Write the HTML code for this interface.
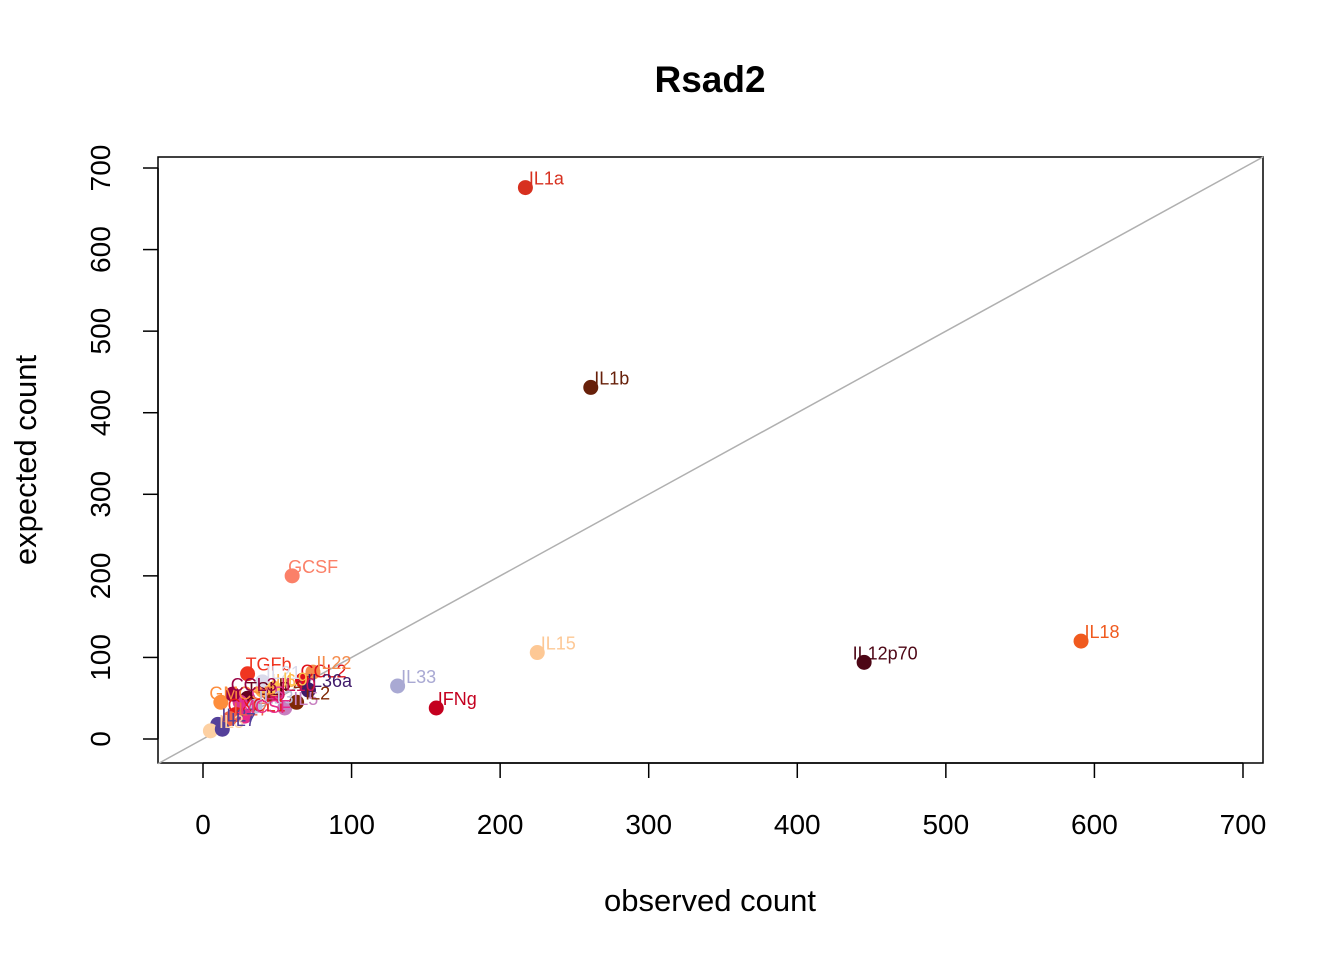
<!DOCTYPE html>
<html><head><meta charset="utf-8"><style>body{margin:0;background:#fff}svg{display:block;font-family:"Liberation Sans",Arial,sans-serif}</style></head>
<body>
<svg id="chart" width="1344" height="960" viewBox="0 0 1344 960">
<text x="710" y="92" text-anchor="middle" font-size="37" font-weight="bold">Rsad2</text>
<rect x="158" y="157" width="1105" height="606" fill="none" stroke="#000" stroke-width="1.5"/>
<text x="710" y="911" text-anchor="middle" font-size="31">observed count</text>
<text transform="translate(36,460) rotate(-90)" text-anchor="middle" font-size="31">expected count</text>
<g id="axes"></g>
<g id="marks"></g>
</svg>
<script>
const xTicks=[0,100,200,300,400,500,600,700];
const yTicks=[0,100,200,300,400,500,600,700];
const labels=["IL1a","IL1b","GCSF","IL15","IL18","IL12p70","IFNg","IL33","TGFb","CCL2","IL22","IL36a","IL5","IL2","IL4","IL6","TSLP","CCL5","GMCSF","IL27","CXCL1","IL21","IL10","IL17","IL13","IL3","CCL3","IL7","MCSF","IL9"];
const observed=[217,261,60,225,591,445,157,131,30,67,74,71,55,63,45,40,30,25,12,10,22,40,50,18,35,5,20,13,28,48];
const expected=[676,431,200,106,120,94,38,65,80,72,82,60,38,45,55,60,50,45,45,18,30,70,55,25,40,10,55,12,28,62];
const colors=["#d7301f","#67200a","#fb8068","#fdc895","#f05a1e","#4d0716","#c4001f","#a9a9d3","#f03520","#e0101a","#f58c4c","#3f1a6a","#c77fc0","#7f2704","#8c2d04","#feb24c","#67001f","#dd3497","#fd8d3c","#54409a","#e31a1c","#dadaeb","#ce1256","#ef6548","#bcbddc","#fdd0a2","#980043","#54409a","#e7298a","#fec44f"];
const X=v=>203+v*1.4857, Y=v=>739-v*0.8157;
const ns="http://www.w3.org/2000/svg";
const ax=document.getElementById('axes'), mk=document.getElementById('marks');
function el(t,a,p){const e=document.createElementNS(ns,t);for(const k in a)e.setAttribute(k,a[k]);p.appendChild(e);return e;}
const xl=el('line',{x1:X(0),x2:X(700),y1:763,y2:763,stroke:'#000','stroke-width':1.5},ax);


const yl=el('line',{x1:158,x2:158,y1:Y(0),y2:Y(700),stroke:'#000','stroke-width':1.5},ax);


xTicks.forEach(v=>{
 const t=el('line',{x1:X(v),x2:X(v),y1:763,y2:778,stroke:'#000','stroke-width':1.5},ax);
 
 
 const s=el('text',{x:X(v),y:834,'text-anchor':'middle','font-size':28},ax);s.textContent=v;
 
 
});
yTicks.forEach(v=>{
 const t=el('line',{x1:158,x2:143,y1:Y(v),y2:Y(v),stroke:'#000','stroke-width':1.5},ax);
 
 
 const s=el('text',{'text-anchor':'middle','font-size':28,transform:`translate(110,${Y(v)}) rotate(-90)`},ax);s.textContent=v;
 
 
});
const d=el('line',{x1:158,y1:Y((158-203)/1.4857),x2:1263,y2:Y((1263-203)/1.4857),stroke:'#b0b0b0','stroke-width':1.5},mk);


labels.forEach((l,i)=>{
 const c=el('circle',{cx:X(observed[i]),cy:Y(expected[i]),r:7.5,fill:colors[i]},mk);
 
 
});
labels.forEach((l,i)=>{
 const t=el('text',{x:X(observed[i])+21,y:Y(expected[i])-3,'text-anchor':'middle','font-size':18,fill:colors[i]},mk);t.textContent=l;
 
 
});
</script>
</body></html>
